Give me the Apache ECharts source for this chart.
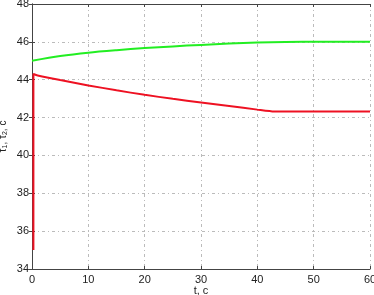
<!DOCTYPE html>
<html><head><meta charset="utf-8">
<script src="https://cdn.jsdelivr.net/npm/echarts@6/dist/echarts.min.js"></script>
<style>html,body{margin:0;padding:0;background:#fff}#c{width:374px;height:295px}</style>
</head><body><div id="c"></div>
<script>
const greenT = [0, 5, 10, 15, 20, 25, 30, 35, 40, 45, 48, 60];
const greenV = [45.0, 45.25, 45.43, 45.56, 45.67, 45.76, 45.84, 45.91, 45.96, 45.99, 46.0, 46.0];
const redT = [0.25, 0.25, 1, 5, 10, 15, 20, 25, 30, 35, 40, 43, 60];
const redV = [35.0, 44.3, 44.22, 43.98, 43.7, 43.44, 43.2, 42.99, 42.8, 42.61, 42.42, 42.32, 42.32];
const xTicks = [0, 10, 20, 30, 40, 50, 60];
const yTicks = [34, 36, 38, 40, 42, 44, 46, 48];

const chart = echarts.init(document.getElementById('c'));
const lab = {color:'#222', fontSize:11, fontFamily:'Liberation Sans, Arial'};
const axLine = {show:true, lineStyle:{color:'#444', width:1}};
const split = {show:true, lineStyle:{color:'#bbb', type:[3,3,1,3], width:1}};
chart.setOption({
  animation:false,
  grid:{left:32, right:4, top:4, bottom:26, containLabel:false, outerBoundsMode:'none'},
  xAxis:[
    {type:'value', min:0, max:60, interval:10, axisLine:axLine,
     axisTick:{inside:true, length:3, lineStyle:{color:'#444'}},
     axisLabel:Object.assign({margin:5, formatter:v=>xTicks.includes(v)?String(v):''}, lab),
     splitLine:split,
     name:'t, c', nameLocation:'middle', nameGap:16, nameMoveOverlap:false, nameTextStyle:lab},
    {type:'value', position:'top', min:0, max:60, interval:10, axisLine:axLine,
     axisTick:{inside:true, length:3, lineStyle:{color:'#444'}}, axisLabel:{show:false}, splitLine:{show:false}}
  ],
  yAxis:[
    {type:'value', min:34, max:48, interval:2, axisLine:axLine,
     axisTick:{inside:true, length:3, lineStyle:{color:'#444'}},
     axisLabel:Object.assign({margin:3, formatter:v=>yTicks.includes(v)?String(v):''}, lab),
     splitLine:split,
     name:'{a|τ}{s|1}{a|, τ}{s|2}{a|, c}', nameLocation:'middle', nameGap:23, nameMoveOverlap:false,
     nameTextStyle:{rich:{a:{fontSize:10, color:'#222', fontFamily:'Liberation Sans, Arial'}, s:{fontSize:7, color:'#222', verticalAlign:'bottom', padding:[4,0,0,0]}}}},
    {type:'value', position:'right', min:34, max:48, interval:2, axisLine:axLine,
     axisTick:{inside:true, length:3, lineStyle:{color:'#444'}}, axisLabel:{show:false}, splitLine:{show:false}}
  ],
  series:[
    {type:'line', data:greenT.map((t,i)=>[t,greenV[i]]), smooth:0.3, showSymbol:false,
     lineStyle:{color:'#22ee22', width:2}},
    {type:'line', data:redT.map((t,i)=>[t,redV[i]]), smooth:0.2, showSymbol:false,
     lineStyle:{color:'#ee1122', width:2}}
  ]
});
</script></body></html>
